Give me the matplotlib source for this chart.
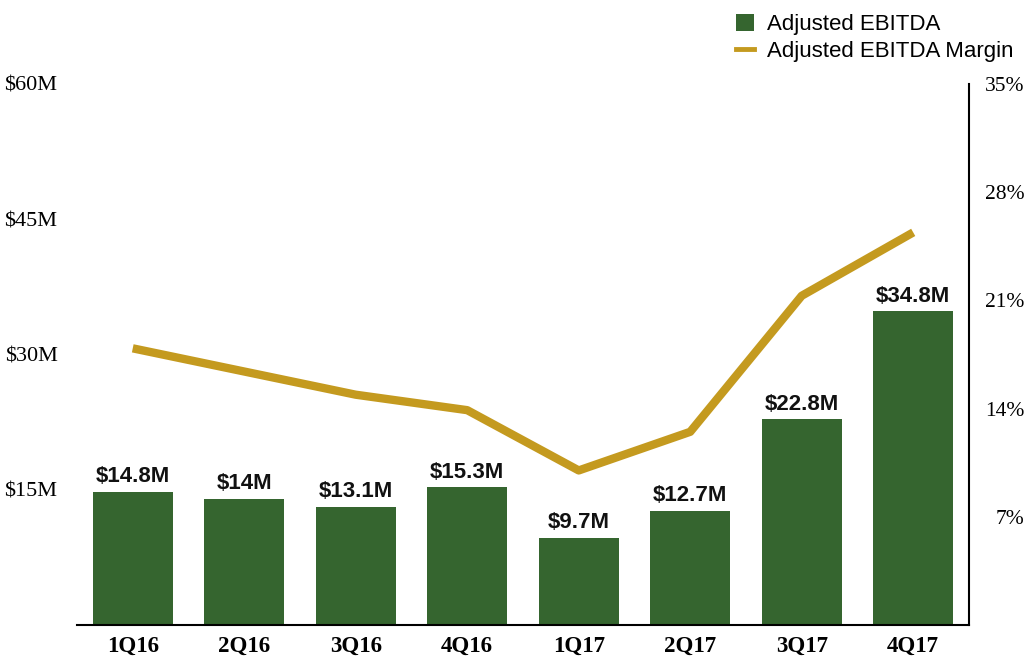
import matplotlib
matplotlib.use("Agg")
import matplotlib.pyplot as plt
from matplotlib.patches import Patch
from matplotlib.lines import Line2D

# Data
quarters = ["1Q16", "2Q16", "3Q16", "4Q16", "1Q17", "2Q17", "3Q17", "4Q17"]
ebitda_m = [14.8, 14.0, 13.1, 15.3, 9.7, 12.7, 22.8, 34.8]
ebitda_labels = ["$14.8M", "$14M", "$13.1M", "$15.3M", "$9.7M", "$12.7M", "$22.8M", "$34.8M"]
margin_pct = [17.9, 16.4, 14.9, 13.9, 10.0, 12.5, 21.3, 25.4]
left_ticks = [15, 30, 45, 60]
left_tick_labels = ["$15M", "$30M", "$45M", "$60M"]
right_ticks = [7, 14, 21, 28, 35]
right_tick_labels = ["7%", "14%", "21%", "28%", "35%"]

GREEN = "#35652f"
GOLD = "#c49a1f"
SERIF = "Liberation Serif"
SANS = "Liberation Sans"

fig = plt.figure(figsize=(10.35, 6.72), dpi=100)
ax = fig.add_axes([0.0744, 0.0699, 0.8618, 0.8051])
ax2 = ax.twinx()

x = list(range(len(quarters)))
ax.bar(x, ebitda_m, width=0.72, color=GREEN, zorder=2)
for xi, v, lab in zip(x, ebitda_m, ebitda_labels):
    ax.text(xi, v + 0.5, lab, ha="center", va="bottom", fontsize=16,
            fontweight="bold", family=SANS, color="#111111")

ax2.plot(x, margin_pct, color=GOLD, linewidth=6, solid_capstyle="butt", zorder=3)

ax.set_xlim(-0.5, 7.5)
ax.set_ylim(0, 60)
ax2.set_ylim(0, 35)

ax.set_xticks(x)
ax.set_xticklabels(quarters, fontsize=16.5, fontweight="bold", family=SERIF)
ax.tick_params(axis="x", length=0, pad=8)

ax.set_yticks(left_ticks)
ax.set_yticklabels(left_tick_labels, fontsize=16, family=SERIF)
ax.tick_params(axis="y", length=0, pad=14)

ax2.set_yticks(right_ticks)
ax2.set_yticklabels(right_tick_labels, fontsize=15.5, family=SERIF)
ax2.tick_params(axis="y", length=0, pad=40)
for t in ax2.get_yticklabels():
    t.set_horizontalalignment("right")

for a in (ax, ax2):
    a.spines["top"].set_visible(False)
    a.spines["left"].set_visible(False)
    a.spines["right"].set_visible(False)
    a.spines["bottom"].set_linewidth(1.5)
ax2.spines["right"].set_visible(True)
ax2.spines["right"].set_linewidth(1.5)
ax2.spines["bottom"].set_visible(False)

handles = [
    Patch(facecolor=GREEN, edgecolor="none", label="Adjusted EBITDA"),
    Line2D([0], [0], color=GOLD, linewidth=3.5, label="Adjusted EBITDA Margin"),
]
fig.legend(handles=handles, loc="upper left", bbox_to_anchor=(0.692, 1.009),
           frameon=False, prop={"family": SANS, "size": 16},
           handlelength=0.8, handleheight=0.8, handletextpad=0.6,
           labelspacing=0.25)

fig.savefig("out.png", dpi=100)
